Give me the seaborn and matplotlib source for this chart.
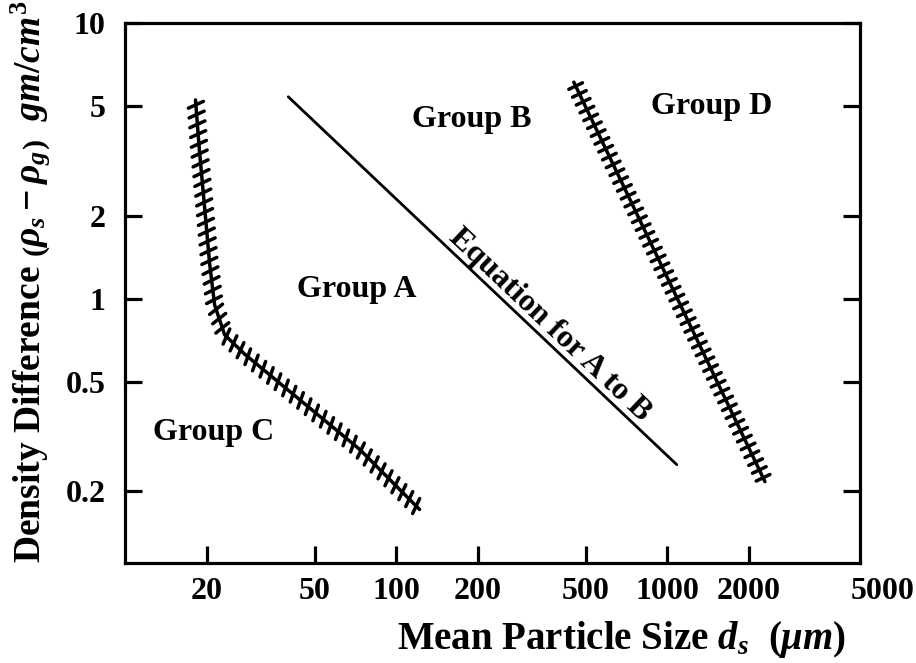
import numpy as np
import pandas as pd
import seaborn as sns
import matplotlib
matplotlib.use("Agg")
import matplotlib.pyplot as plt
import matplotlib.patheffects as pe
import matplotlib.transforms as mtransforms

# ---- data ----
ca_x = [18.2, 18.8, 19.7, 20.5, 21.4, 23.3, 27.6, 44.1, 73.4, 122]
ca_y = [5.26, 3.47, 2.10, 1.35, 0.95, 0.74, 0.63, 0.43, 0.284, 0.172]

ab_x = [40, 1084]
ab_y = [5.4, 0.25]

bd_x = [452, 2291]
bd_y = [6.1, 0.217]

x_ticks = [20, 50, 100, 200, 500, 1000, 2000, 5000]
x_tick_labels = ["20", "50", "100", "200", "500", "1000", "2000", "5000"]
y_ticks = [0.2, 0.5, 1, 2, 5, 10]
y_tick_labels = ["0.2", "0.5", "1", "2", "5", "10"]

group_names = ["Group A", "Group B", "Group C", "Group D"]
group_x = [71.5, 190, 21.2, 1460]
group_y = [1.08, 4.45, 0.327, 4.96]

eq_label = "Equation for A to B"
eq_label_x = 340

sns.set_style("ticks")
plt.rcParams["font.family"] = ["Liberation Serif", "DejaVu Serif"]
plt.rcParams["font.weight"] = "bold"
plt.rcParams["text.color"] = "black"
plt.rcParams["axes.labelcolor"] = "black"
plt.rcParams["xtick.color"] = "black"
plt.rcParams["ytick.color"] = "black"
plt.rcParams["mathtext.fontset"] = "custom"
plt.rcParams["mathtext.rm"] = "Liberation Serif:bold"
plt.rcParams["mathtext.it"] = "Liberation Serif:italic:bold"
plt.rcParams["mathtext.bf"] = "Liberation Serif:bold"

fig = plt.figure(figsize=(9.16, 6.63), dpi=100)
ax = fig.add_axes([125 / 916, 100 / 663, 735 / 916, 540 / 663])

df_ca = pd.DataFrame({"x": ca_x, "y": ca_y})
df_ab = pd.DataFrame({"x": ab_x, "y": ab_y})
df_bd = pd.DataFrame({"x": bd_x, "y": bd_y})

sns.lineplot(data=df_ca, x="x", y="y", ax=ax, color="black", linewidth=2.5,
             sort=False, estimator=None)
line_ca = ax.lines[-1]
sns.lineplot(data=df_ab, x="x", y="y", ax=ax, color="black", linewidth=2.0,
             sort=False, estimator=None)
sns.lineplot(data=df_bd, x="x", y="y", ax=ax, color="black", linewidth=2.5,
             sort=False, estimator=None)
line_bd = ax.lines[-1]

line_ca.set_path_effects([
    pe.TickedStroke(spacing=7, angle=110, length=0.85),
    pe.TickedStroke(spacing=7, angle=-70, length=0.85),
    pe.Normal(),
])
line_bd.set_path_effects([
    pe.TickedStroke(spacing=6.2, angle=90, length=0.88),
    pe.TickedStroke(spacing=6.2, angle=-90, length=0.88),
    pe.Normal(),
])

ax.set_xscale("log")
ax.set_yscale("log")
ax.set_xlim(10, 5136)
ax.set_ylim(0.11, 10)

ax.set_xticks(x_ticks)
ax.set_xticklabels(x_tick_labels)
ax.set_yticks(y_ticks)
ax.set_yticklabels(y_tick_labels)
ax.minorticks_off()
ax.tick_params(axis="both", which="major", direction="in", length=12.5, width=2.3,
               labelsize=23, color="black", labelcolor="black")
ax.tick_params(axis="x", pad=10)
ax.tick_params(axis="y", pad=14, right=True)
for lab in ax.get_xticklabels() + ax.get_yticklabels():
    lab.set_fontweight("bold")

# 5000: label only, placed just beyond the frame
last_tick = ax.xaxis.get_major_ticks()[-1]
last_tick.tick1line.set_visible(False)
last_tick.label1.set_transform(last_tick.label1.get_transform() +
                               mtransforms.ScaledTranslation(26 / 100, 0, fig.dpi_scale_trans))

for s in ax.spines.values():
    s.set_linewidth(2.3)
    s.set_color("black")
    s.set_visible(True)

ax.set_xlabel(r"Mean Particle Size $d_s$  $(\mu m)$", fontsize=28, fontweight="bold")
ax.set_ylabel(r"Density Difference $\left(\rho_s - \rho_g\right)\ \ gm/cm^3$",
              fontsize=27, fontweight="bold")
ax.xaxis.label.set_va("center")
ax.yaxis.label.set_va("center")
ax.xaxis.set_label_coords(0.676, -0.142)
ax.yaxis.set_label_coords(-0.129, 0.52)

for name, gx, gy in zip(group_names, group_x, group_y):
    ax.text(gx, gy, name, fontsize=23, fontweight="bold", ha="center", va="center")

# label along the A-B equation line
lx = np.log10(ab_x)
ly = np.log10(ab_y)
eq_y = 10 ** np.interp(np.log10(eq_label_x), lx, ly)
p0 = ax.transData.transform((ab_x[0], ab_y[0]))
p1 = ax.transData.transform((ab_x[1], ab_y[1]))
ang = np.degrees(np.arctan2(p1[1] - p0[1], p1[0] - p0[0]))
nx, ny = -np.sin(np.radians(ang)), np.cos(np.radians(ang))
ax.annotate(eq_label, xy=(eq_label_x, eq_y), xytext=(nx * 10, ny * 10),
            textcoords="offset points", rotation=ang, rotation_mode="anchor",
            ha="center", va="center", fontsize=23, fontweight="bold")

fig.savefig("out.png", dpi=100)
